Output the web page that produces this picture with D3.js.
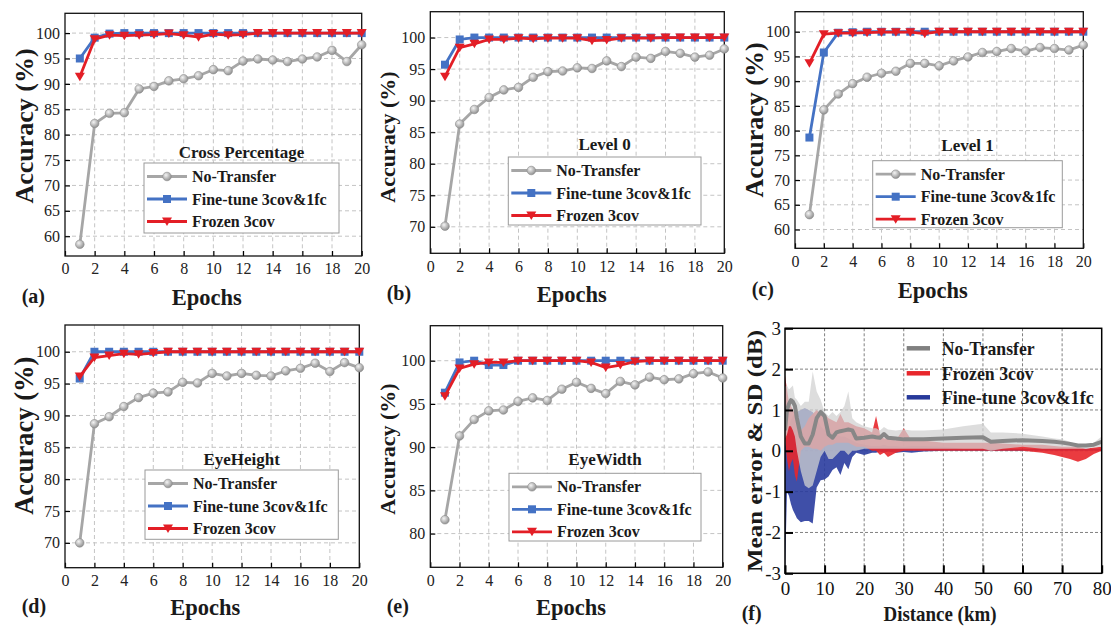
<!DOCTYPE html>
<html>
<head>
<meta charset="utf-8">
<script src="https://cdn.jsdelivr.net/npm/d3@7"></script>
<style>
body { margin: 0; background: #fff; }
svg, svg text { font-family: "Liberation Serif", "Times New Roman", "DejaVu Serif", serif; }
</style>
</head>
<body>
<svg width="1111" height="626" font-family="Liberation Serif, Times New Roman, DejaVu Serif, serif"></svg>
<script>
// Accuracy vs epochs, panels (a)-(e)

var epochs = [1, 2, 3, 4, 5, 6, 7, 8, 9, 10, 11, 12, 13, 14, 15, 16, 17, 18, 19, 20]
var seriesNames = ['No-Transfer', 'Fine-tune 3cov&1fc', 'Frozen 3cov']

var crossNoTransfer = [58.4, 82.2, 84.2, 84.3, 89.0, 89.5, 90.6, 91.0, 91.6, 92.8, 92.6, 94.5, 94.9, 94.7, 94.4, 94.9, 95.3, 96.6, 94.4, 97.7]
var crossFineTune = [95.0, 99.1, 99.9, 100, 100, 100, 100, 100, 100, 100, 100, 100, 100, 100, 100, 100, 100, 100, 100, 100]
var crossFrozen = [91.4, 98.8, 99.6, 99.5, 99.6, 99.7, 99.9, 99.6, 99.2, 99.8, 99.6, 99.7, 100, 100, 100, 100, 100, 100, 100, 100]

var level0NoTransfer = [70.1, 86.3, 88.6, 90.5, 91.7, 92.1, 93.7, 94.6, 94.7, 95.2, 95.1, 96.3, 95.4, 96.9, 96.7, 97.8, 97.5, 96.9, 97.2, 98.2]
var level0FineTune = [95.7, 99.7, 100, 100, 100, 100, 100, 100, 100, 100, 100, 100, 100, 100, 100, 100, 100, 100, 100, 100]
var level0Frozen = [93.8, 98.4, 99.0, 99.7, 99.7, 99.9, 99.8, 99.9, 99.9, 99.9, 99.5, 99.6, 99.9, 99.9, 99.9, 100, 100, 100, 100, 100]

var level1NoTransfer = [63.0, 84.2, 87.4, 89.5, 90.8, 91.6, 92.0, 93.6, 93.6, 93.1, 94.1, 94.9, 95.8, 96.0, 96.6, 96.1, 96.8, 96.6, 96.3, 97.3]
var level1FineTune = [78.6, 95.8, 99.8, 99.9, 100, 100, 100, 100, 100, 100, 100, 100, 100, 100, 100, 100, 100, 100, 100, 100]
var level1Frozen = [93.6, 99.5, 99.7, 99.7, 99.8, 99.9, 99.9, 99.9, 99.6, 100, 100, 100, 100, 100, 100, 100, 100, 100, 100, 100]

var heightNoTransfer = [70.0, 88.7, 89.8, 91.4, 92.8, 93.5, 93.7, 95.2, 95.1, 96.6, 96.2, 96.6, 96.3, 96.2, 97.0, 97.4, 98.2, 96.9, 98.3, 97.5]
var heightFineTune = [95.8, 100, 100, 100, 100, 100, 100, 100, 100, 100, 100, 100, 100, 100, 100, 100, 100, 100, 100, 100]
var heightFrozen = [96.1, 99.1, 99.4, 99.7, 99.6, 99.8, 100, 100, 100, 100, 100, 100, 100, 100, 100, 100, 100, 100, 100, 100]

var widthNoTransfer = [81.6, 91.3, 93.2, 94.2, 94.3, 95.3, 95.7, 95.4, 96.7, 97.5, 96.8, 96.2, 97.6, 97.2, 98.1, 97.8, 97.9, 98.5, 98.7, 98.0]
var widthFineTune = [96.3, 99.8, 100, 99.5, 99.5, 100, 100, 100, 100, 100, 100, 100, 100, 100, 100, 100, 100, 100, 100, 100]
var widthFrozen = [95.9, 99.1, 99.6, 99.8, 99.8, 100, 100, 100, 100, 100, 99.8, 99.2, 99.5, 99.9, 100, 100, 100, 100, 100, 100]

var xTickValues = [0, 2, 4, 6, 8, 10, 12, 14, 16, 18, 20]

// Mean error & SD vs distance, panel (f)
var distKm = [0, 0.5, 1, 1.5, 2, 2.5, 3, 4, 5, 6, 7, 8, 9, 10, 11, 12, 13, 14, 15, 16, 17, 18, 20, 22, 23, 24, 25, 26, 28, 30, 32, 35, 40, 45, 50, 52, 55, 60, 65, 68, 70, 72, 74, 76, 78, 80]
var noTransferMean = [0.5, 1.0, 1.15, 1.24, 1.2, 1.1, 0.8, 0.35, 0.18, 0.18, 0.4, 0.8, 0.95, 0.85, 0.4, 0.32, 0.45, 0.48, 0.5, 0.52, 0.5, 0.3, 0.32, 0.35, 0.33, 0.32, 0.41, 0.32, 0.3, 0.28, 0.28, 0.28, 0.3, 0.32, 0.33, 0.22, 0.24, 0.26, 0.24, 0.22, 0.2, 0.17, 0.13, 0.13, 0.15, 0.22]
var noTransferHi = [1.57, 1.6, 1.5, 1.55, 1.6, 1.3, 1.25, 1.1, 1.2, 1.2, 1.94, 1.45, 1.25, 0.95, 0.85, 0.95, 0.85, 0.95, 1.1, 1.45, 0.8, 0.7, 0.6, 0.55, 0.55, 0.5, 0.58, 0.52, 0.5, 0.52, 0.5, 0.5, 0.52, 0.6, 0.66, 0.45, 0.45, 0.42, 0.35, 0.3, 0.28, 0.22, 0.15, 0.14, 0.2, 0.35]
var noTransferLo = [0.3, 0.4, 0.6, 0.6, 0.5, 0.35, 0.0, -0.5, -0.85, -0.92, -0.85, -0.5, -0.15, 0.0, -0.2, -0.2, -0.1, 0.0, 0.0, -0.1, 0.0, 0.0, 0.05, 0.05, 0.05, 0.05, 0.05, 0.05, 0.05, 0.05, 0.05, 0.05, 0.05, 0.05, 0.05, 0.0, 0.05, 0.1, 0.05, 0.05, 0.05, 0.05, 0.05, 0.05, 0.08, 0.1]
var frozenHi = [1.85, 1.5, 1.2, 1.1, 1.0, 0.9, 0.6, 0.5, 0.6, 0.8, 0.9, 1.0, 0.9, 0.9, 0.8, 0.75, 0.7, 0.9, 0.7, 0.7, 0.65, 0.6, 0.55, 0.45, 0.85, 0.4, 0.3, 0.3, 0.25, 0.55, 0.25, 0.25, 0.2, 0.2, 0.2, 0.2, 0.18, 0.15, 0.15, 0.12, 0.1, 0.1, 0.1, 0.05, 0.08, 0.1]
var frozenLo = [0.3, -0.2, -0.5, -0.3, -0.2, -0.6, -0.75, 0.0, 0.1, 0.1, 0.05, 0.05, 0.0, 0.1, 0.15, 0.15, 0.2, 0.2, 0.2, 0.2, 0.15, 0.1, 0.1, 0.0, 0.0, -0.1, -0.05, -0.15, -0.05, 0.0, 0.0, 0.0, 0.0, 0.0, 0.0, 0.0, 0.0, 0.0, -0.05, -0.1, -0.15, -0.2, -0.27, -0.2, -0.08, 0.0]
var fineTuneHi = [0.1, 0.4, 0.6, 0.75, 0.85, 0.9, 0.95, 1.0, 1.05, 1.0, 0.95, 0.8, 0.6, 0.5, 0.45, 0.45, 0.4, 0.35, 0.35, 0.3, 0.25, 0.2, 0.15, 0.12, 0.12, 0.12, 0.15, 0.12, 0.12, 0.1, 0.12, 0.12, 0.1, 0.05, 0.05, 0.05, 0.05, 0.05, 0.05, 0.05, 0.05, 0.05, 0.05, 0.05, 0.05, 0.05]
var fineTuneLo = [-3.0, -1.0, -1.1, -1.3, -1.45, -1.55, -1.65, -1.75, -1.72, -1.72, -1.78, -0.9, -0.72, -0.7, -0.63, -0.47, -0.4, -0.59, -0.3, -0.45, -0.15, -0.05, -0.1, -0.05, -0.05, -0.02, -0.05, -0.02, -0.05, -0.03, -0.05, -0.02, 0.0, 0.0, 0.0, 0.0, 0.0, 0.0, 0.0, 0.0, 0.0, 0.0, 0.0, 0.0, 0.0, 0.0]
var distTicks = [0, 10, 20, 30, 40, 50, 60, 70, 80]
var errTicks = [-3, -2, -1, 0, 1, 2, 3]

var grey = '#a6a6a6'
var blue = '#4472c4'
var red = '#e31e26'
var serif = 'Liberation Serif, Times New Roman, DejaVu Serif, serif'

var svg = d3.select('svg')
var defs = svg.append('defs')
var grad = defs.append('radialGradient').attr('id', 'ball')
	.attr('cx', '38%').attr('cy', '35%').attr('r', '70%')
grad.append('stop').attr('offset', '0%').attr('stop-color', '#f4f4f4')
grad.append('stop').attr('offset', '100%').attr('stop-color', '#8a8a8a')

var panels = [
	{ label: '(a)', title: 'Cross Percentage', left: 65, right: 361.7, top: 13.3, bottom: 256, yDomain: [56.1, 103.9], yTicks: [60, 65, 70, 75, 80, 85, 90, 95, 100],
		data: [crossNoTransfer, crossFineTune, crossFrozen], box: [144, 163, 195, 70], titleY: 158, yTitle: [24, 126, 26], epochsX: 206.7, epochsY: 305, labelX: 21.7, labelY: 303 },
	{ label: '(b)', title: 'Level 0', left: 430.3, right: 724.3, top: 11.7, bottom: 253.3, yDomain: [65.8, 104.1], yTicks: [70, 75, 80, 85, 90, 95, 100],
		data: [level0NoTransfer, level0FineTune, level0Frozen], box: [508.3, 157, 192.7, 68], titleY: 150, yTitle: [387.5, 137, 22], epochsX: 571.7, epochsY: 302, labelX: 386.7, labelY: 300 },
	{ label: '(c)', title: 'Level 1', left: 795, right: 1083.3, top: 11.7, bottom: 248.3, yDomain: [56.2, 104.05], yTicks: [60, 65, 70, 75, 80, 85, 90, 95, 100],
		data: [level1NoTransfer, level1FineTune, level1Frozen], box: [872.7, 160.7, 189.6, 67], titleY: 151, yTitle: [754, 120, 26], epochsX: 932.7, epochsY: 298, labelX: 751.7, labelY: 296 },
	{ label: '(d)', title: 'EyeHeight', left: 65, right: 359.3, top: 325, bottom: 567.7, yDomain: [66.1, 104.2], yTicks: [70, 75, 80, 85, 90, 95, 100],
		data: [heightNoTransfer, heightFineTune, heightFrozen], box: [145, 470, 193.3, 69.3], titleY: 465, yTitle: [24, 435.7, 26.5], epochsX: 205.3, epochsY: 615, labelX: 21.7, labelY: 613 },
	{ label: '(e)', title: 'EyeWidth', left: 430.3, right: 722.7, top: 325.7, bottom: 567.3, yDomain: [76.1, 104.05], yTicks: [80, 85, 90, 95, 100],
		data: [widthNoTransfer, widthFineTune, widthFrozen], box: [509, 473.3, 192, 67.7], titleY: 465, yTitle: [387.5, 449, 22], epochsX: 571, epochsY: 615, labelX: 386.7, labelY: 613 }
]

panels.forEach(drawAccuracy)
drawError()

function drawMarker(sel, kind) {
	if (kind == 0) {
		sel.append('circle').attr('r', 4.3).attr('fill', 'url(#ball)').attr('stroke', '#8c8c8c').attr('stroke-width', 0.6)
	} else if (kind == 1) {
		sel.append('rect').attr('x', -4).attr('y', -4).attr('width', 8).attr('height', 8).attr('fill', blue)
	} else {
		sel.append('path').attr('d', 'M-5,-4L5,-4L0,4.5Z').attr('fill', red)
	}
}

function label(sel, x, y, size, str) {
	return sel.append('text').attr('x', x).attr('y', y)
		.attr('font-family', serif).attr('font-weight', 'bold').attr('font-size', size)
		.attr('fill', '#1a1a1a').text(str)
}

function drawAccuracy(p) {
	var x = d3.scaleLinear().domain([0, 20]).range([p.left, p.right])
	var y = d3.scaleLinear().domain(p.yDomain).range([p.bottom, p.top])
	var g = svg.append('g')

	// dashed grid
	g.append('g').selectAll('line').data(xTickValues.slice(1, -1)).enter().append('line')
		.attr('x1', function(d) { return x(d) }).attr('x2', function(d) { return x(d) })
		.attr('y1', p.top).attr('y2', p.bottom)
		.attr('stroke', '#c4c4c4').attr('stroke-dasharray', '4,3')
	g.append('g').selectAll('line').data(p.yTicks).enter().append('line')
		.attr('y1', function(d) { return y(d) }).attr('y2', function(d) { return y(d) })
		.attr('x1', p.left).attr('x2', p.right)
		.attr('stroke', '#c4c4c4').attr('stroke-dasharray', '4,3')

	var xAxis = g.append('g').attr('transform', 'translate(0,' + p.bottom + ')')
		.call(d3.axisBottom(x).tickValues(xTickValues).tickSize(-5).tickPadding(7).tickFormat(String))
	var yAxis = g.append('g').attr('transform', 'translate(' + p.left + ',0)')
		.call(d3.axisLeft(y).tickValues(p.yTicks).tickSize(-5).tickPadding(5).tickFormat(String))
	;[xAxis, yAxis].forEach(function(a) {
		a.attr('font-family', serif).attr('font-size', 16)
		a.select('.domain').remove()
		a.selectAll('.tick line').attr('stroke', '#000').attr('stroke-width', 1.2)
		a.selectAll('.tick text').attr('fill', '#222')
	})

	g.append('rect').attr('x', p.left).attr('y', p.top)
		.attr('width', p.right - p.left).attr('height', p.bottom - p.top)
		.attr('fill', 'none').attr('stroke', '#111').attr('stroke-width', 1.3)

	var line = d3.line()
		.x(function(d, i) { return x(epochs[i]) })
		.y(function(d) { return y(d) })
	var colors = [grey, blue, red]
	p.data.forEach(function(s, k) {
		g.append('path').datum(s).attr('d', line)
			.attr('fill', 'none').attr('stroke', colors[k]).attr('stroke-width', 2.8)
		var m = g.append('g').selectAll('g').data(s).enter().append('g')
			.attr('transform', function(d, i) { return 'translate(' + x(epochs[i]) + ',' + y(d) + ')' })
		drawMarker(m, k)
	})

	// legend
	var b = p.box
	label(g, b[0] + b[2] / 2, p.titleY, 17, p.title).attr('text-anchor', 'middle')
	g.append('rect').attr('x', b[0]).attr('y', b[1]).attr('width', b[2]).attr('height', b[3])
		.attr('fill', '#fff').attr('stroke', '#9a9a9a').attr('stroke-width', 1)
	seriesNames.forEach(function(name, k) {
		var ry = b[1] + 13.5 + k * 22.5
		g.append('line').attr('x1', b[0] + 3).attr('x2', b[0] + 43).attr('y1', ry).attr('y2', ry)
			.attr('stroke', colors[k]).attr('stroke-width', 2.8)
		var m = g.append('g').attr('transform', 'translate(' + (b[0] + 23) + ',' + ry + ')')
		drawMarker(m, k)
		label(g, b[0] + 48, ry, 16, name).attr('dy', '0.35em')
	})

	// titles
	label(g, p.epochsX, p.epochsY, 22.5, 'Epochs').attr('text-anchor', 'middle')
	label(g, 0, 0, p.yTitle[2], 'Accuracy (%)')
		.attr('transform', 'translate(' + p.yTitle[0] + ',' + p.yTitle[1] + ') rotate(-90)')
		.attr('text-anchor', 'middle').attr('dy', '0.35em')
	label(g, p.labelX, p.labelY, 20, p.label)
}

function drawError() {
	var left = 785, right = 1101.7, top = 328.3, bottom = 573.3
	var x = d3.scaleLinear().domain([0, 80]).range([left, right])
	var y = d3.scaleLinear().domain([-3, 3]).range([bottom, top])
	var g = svg.append('g')

	defs.append('clipPath').attr('id', 'clipf').append('rect')
		.attr('x', left).attr('y', top).attr('width', right - left).attr('height', bottom - top)

	g.append('g').selectAll('line').data(distTicks.slice(1, -1)).enter().append('line')
		.attr('x1', function(d) { return x(d) }).attr('x2', function(d) { return x(d) })
		.attr('y1', top).attr('y2', bottom)
		.attr('stroke', '#808080').attr('stroke-dasharray', '3,2')
	g.append('g').selectAll('line').data(errTicks.slice(1, -1)).enter().append('line')
		.attr('y1', function(d) { return y(d) }).attr('y2', function(d) { return y(d) })
		.attr('x1', left).attr('x2', right)
		.attr('stroke', '#808080').attr('stroke-dasharray', '3,2')

	var plot = g.append('g').attr('clip-path', 'url(#clipf)')
	function band(lo, hi) {
		return d3.area()
			.x(function(d, i) { return x(distKm[i]) })
			.y0(function(d, i) { return y(lo[i]) })
			.y1(function(d, i) { return y(hi[i]) })(distKm)
	}
	plot.append('path').attr('d', band(fineTuneLo, fineTuneHi)).attr('fill', '#2a3c9e').attr('fill-opacity', 0.9)
	plot.append('path').attr('d', band(frozenLo, frozenHi)).attr('fill', '#e8262b').attr('fill-opacity', 0.9)
	plot.append('path').attr('d', band(noTransferLo, noTransferHi)).attr('fill', '#d2d2d2').attr('fill-opacity', 0.75)
	plot.append('path').datum(noTransferMean)
		.attr('d', d3.line().x(function(d, i) { return x(distKm[i]) }).y(function(d) { return y(d) }))
		.attr('fill', 'none').attr('stroke', '#878787').attr('stroke-width', 4).attr('stroke-linejoin', 'round')

	var xAxis = g.append('g').attr('transform', 'translate(0,' + bottom + ')')
		.call(d3.axisBottom(x).tickValues(distTicks).tickSize(-8).tickPadding(8).tickFormat(String))
	var yAxis = g.append('g').attr('transform', 'translate(' + left + ',0)')
		.call(d3.axisLeft(y).tickValues(errTicks).tickSize(-8).tickPadding(4).tickFormat(String))
	;[xAxis, yAxis].forEach(function(a) {
		a.attr('font-family', serif).attr('font-size', 19)
		a.select('.domain').remove()
		a.selectAll('.tick line').attr('stroke', '#000').attr('stroke-width', 2)
		a.selectAll('.tick text').attr('fill', '#111')
	})
	g.append('rect').attr('x', left).attr('y', top).attr('width', right - left).attr('height', bottom - top)
		.attr('fill', 'none').attr('stroke', '#000').attr('stroke-width', 1.5)

	var legColors = ['#808080', '#e8262b', '#27399a']
	var legNames = ['No-Transfer', 'Frozen 3cov', 'Fine-tune 3cov&1fc']
	var legY = [348.3, 373.3, 397.3]
	var legLen = [93, 92, 152]
	legNames.forEach(function(name, k) {
		g.append('line').attr('x1', 906.7).attr('x2', 930).attr('y1', legY[k]).attr('y2', legY[k])
			.attr('stroke', legColors[k]).attr('stroke-width', 4.5)
		label(g, 941.7, legY[k], 19, name).attr('dy', '0.35em')
			.attr('textLength', legLen[k]).attr('lengthAdjust', 'spacingAndGlyphs')
	})

	label(g, 940, 621, 21, 'Distance (km)').attr('text-anchor', 'middle')
		.attr('textLength', 113).attr('lengthAdjust', 'spacingAndGlyphs')
	label(g, 0, 0, 22, 'Mean error & SD (dB)')
		.attr('transform', 'translate(754,451) rotate(-90)')
		.attr('text-anchor', 'middle').attr('dy', '0.35em')
		.attr('textLength', 242).attr('lengthAdjust', 'spacingAndGlyphs')
	label(g, 741.7, 620, 20, '(f)')
}
</script>
</body>
</html>
